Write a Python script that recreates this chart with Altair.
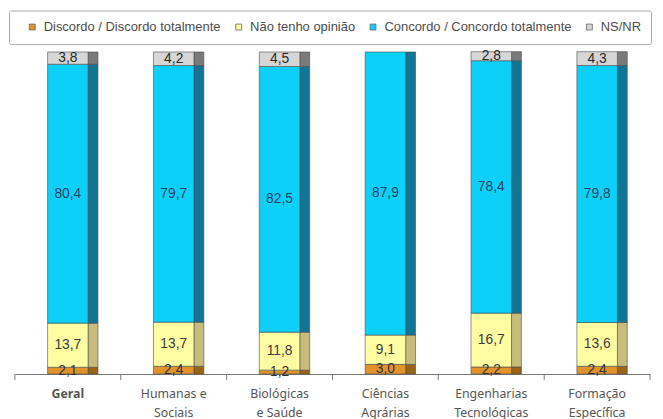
import altair as alt
import pandas as pd

categories = ["Geral", "Humanas e|Sociais", "Biológicas|e Saúde", "Ciências|Agrárias",
              "Engenharias|Tecnológicas", "Formação|Específica"]
series = ["Discordo / Discordo totalmente", "Não tenho opinião",
          "Concordo / Concordo totalmente", "NS/NR"]
discordo = [2.1, 2.4, 1.2, 3.0, 2.2, 2.4]
nao_opiniao = [13.7, 13.7, 11.8, 9.1, 16.7, 13.6]
concordo = [80.4, 79.7, 82.5, 87.9, 78.4, 79.8]
nsnr = [3.8, 4.2, 4.5, 0.0, 2.8, 4.3]

front_colors = ["#E1922A", "#FFFDA2", "#0CD0F8", "#D6D6D6"]
side_colors = ["#9A6316", "#C8BC7C", "#137596", "#7A7A7A"]
label_colors = ["#333333", "#3a3a3a", "#1D4566", "#2a2a2a"]

rows = []
for i, cat in enumerate(categories):
    for j, (s, vals) in enumerate(zip(series, [discordo, nao_opiniao, concordo, nsnr])):
        if vals[i] > 0:
            rows.append({"cat": cat, "serie": s, "value": vals[i], "ord": j,
                         "side": side_colors[j], "lcol": label_colors[j]})
df = pd.DataFrame(rows)
cat_df = pd.DataFrame({"cat": categories, "last": [c == categories[-1] for c in categories]})

FRONT_W = 41
SIDE_W = 10
H = 326

base = alt.Chart(df).transform_window(
    y1="sum(value)", groupby=["cat"], sort=[alt.SortField("ord", order="ascending")],
    frame=[None, 0]
).transform_calculate(
    y0="datum.y1 - datum.value",
    txt="replace(format(datum.value, '.1f'), '.', ',')",
    ymid="datum.y1 - datum.value / 2",
)

xscale = alt.Scale(domain=categories, paddingInner=0, paddingOuter=0)
xenc = alt.X("cat:N", sort=categories, title=None, scale=xscale,
             axis=alt.Axis(labelExpr="split(datum.label, '|')", labelAngle=0,
                           ticks=False, domainColor="#777777",
                           labelFont="Noto Sans", labelFontSize=12.5,
                           labelColor="#555555", labelPadding=14, labelLineHeight=19,
                           labelBaseline="top", labelAlign="center",
                           labelFontWeight=alt.condition("datum.value == 'Geral'",
                                                         alt.value("bold"), alt.value("normal")),
                           labelLimit=200))
yscale = alt.Scale(domain=[0, 100], nice=False, zero=True)

front = base.mark_bar(size=FRONT_W, stroke="#4a4a4a", strokeWidth=0.6).encode(
    x=xenc,
    y=alt.Y("y0:Q", scale=yscale, axis=None),
    y2="y1:Q",
    color=alt.Color("serie:N", scale=alt.Scale(domain=series, range=front_colors),
                    legend=alt.Legend(title=None, orient="none", legendX=-6, legendY=-42,
                                      direction="horizontal", columns=4, columnPadding=4,
                                      labelFont="Liberation Sans", labelFontSize=13.1,
                                      labelColor="#4d4d4d", symbolType="square",
                                      symbolSize=36, symbolStrokeColor="#666666",
                                      symbolStrokeWidth=0.8, labelLimit=400,
                                      fillColor="white", strokeColor="#a8a8a8",
                                      cornerRadius=2, padding=10, symbolOffset=7,
                                      labelOffset=5)),
)

side = base.mark_bar(size=SIDE_W, xOffset=(FRONT_W + SIDE_W) / 2, stroke="#4a4a4a",
                     strokeWidth=0.6).encode(
    x=alt.X("cat:N", sort=categories, scale=xscale),
    y=alt.Y("y0:Q", scale=yscale, axis=None),
    y2="y1:Q",
    fill=alt.Fill("side:N", scale=None, legend=None),
)

labels = base.mark_text(font="Liberation Sans", fontSize=14, baseline="middle").encode(
    x=alt.X("cat:N", sort=categories, scale=xscale),
    y=alt.Y("ymid:Q", scale=yscale, axis=None),
    text="txt:N",
    fill=alt.Fill("lcol:N", scale=None, legend=None),
)

ticks_left = alt.Chart(cat_df).mark_rule(color="#777777", strokeWidth=1).encode(
    x=alt.X("cat:N", sort=categories, scale=xscale, bandPosition=0),
    y=alt.value(H),
    y2=alt.value(H + 6),
)
ticks_right = alt.Chart(cat_df).transform_filter("datum.last").mark_rule(
    color="#777777", strokeWidth=1).encode(
    x=alt.X("cat:N", sort=categories, scale=xscale, bandPosition=1),
    y=alt.value(H),
    y2=alt.value(H + 6),
)

chart = alt.layer(side, front, labels, ticks_left, ticks_right).resolve_scale(
    fill="independent", color="independent"
).properties(
    width=643, height=H,
    autosize=alt.AutoSizeParams(type="none"),
    padding={"left": 7, "top": 42, "right": 5, "bottom": 43},
).configure_view(stroke=None)

chart.save("out.html", embed_options={"renderer": "svg", "actions": False})
